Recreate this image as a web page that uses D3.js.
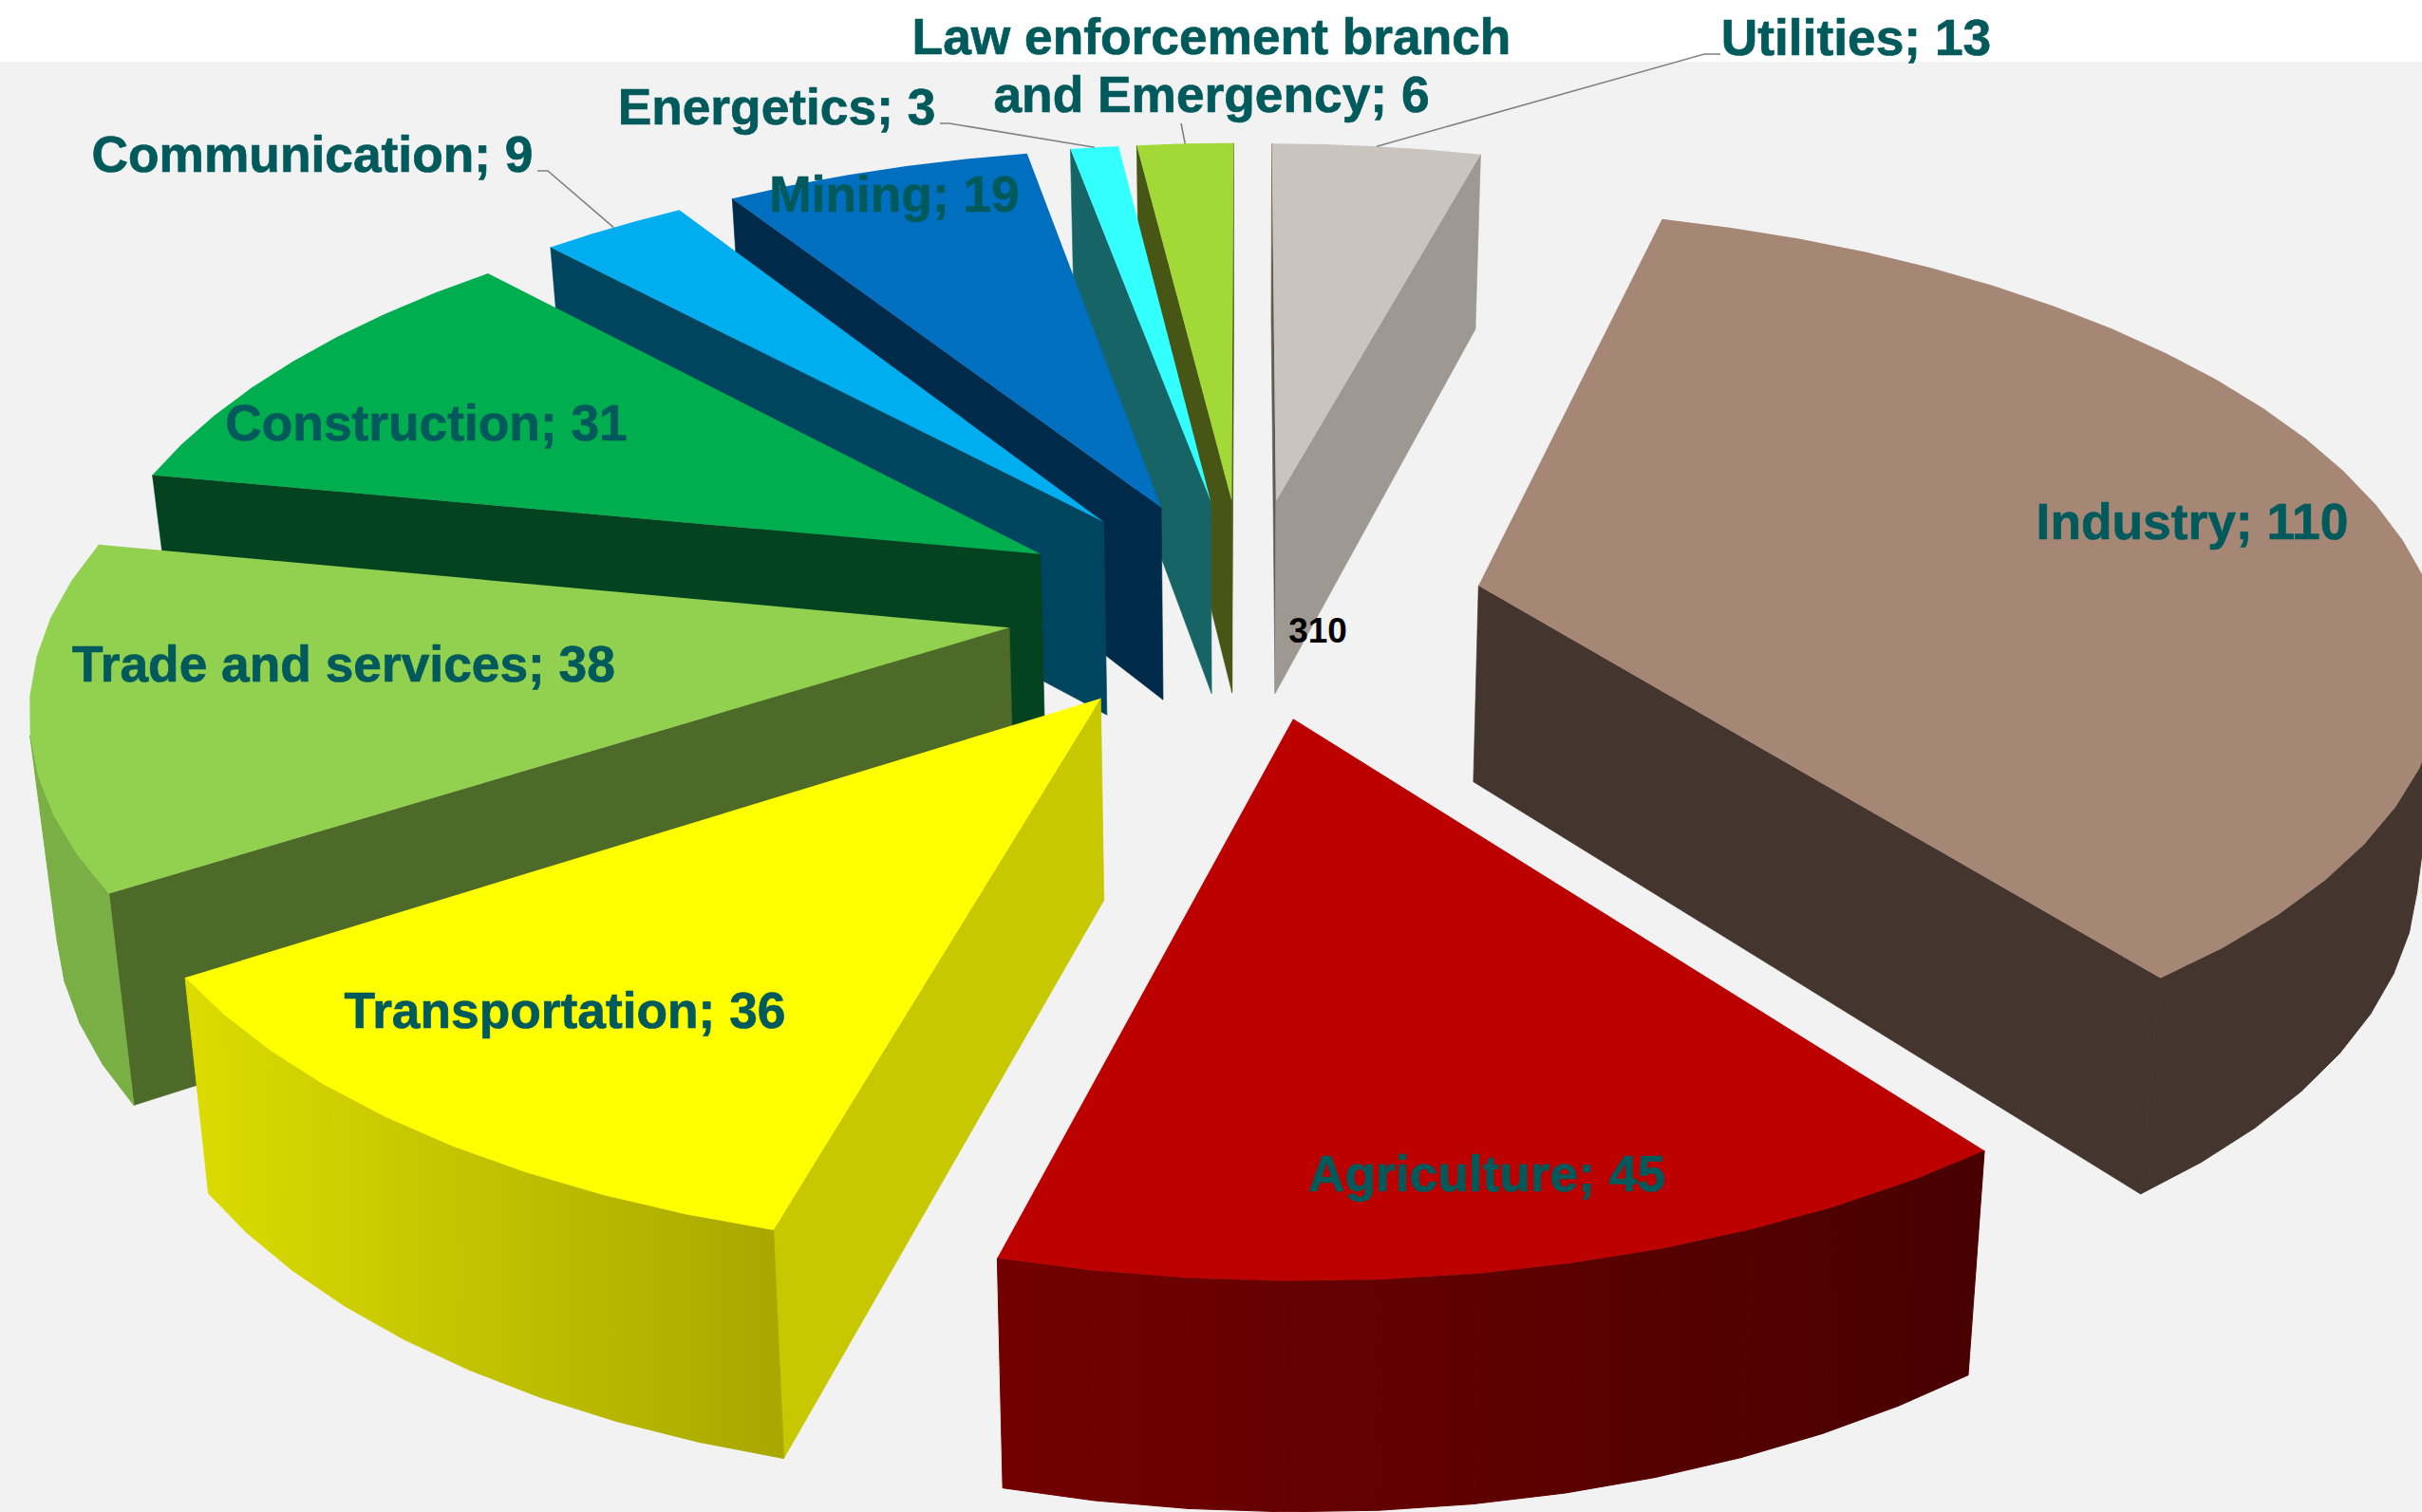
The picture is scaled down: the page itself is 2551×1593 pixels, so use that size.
<!DOCTYPE html>
<html>
<head>
<meta charset="utf-8">
<script src="https://cdn.jsdelivr.net/npm/d3@7/dist/d3.min.js"></script>
<style>
html,body{margin:0;padding:0;background:#fff;overflow:hidden}
svg{display:block}
text{font-family:"Liberation Sans",Arial,sans-serif;font-weight:700}
</style>
</head>
<body>
<svg id="chart" width="2551" height="1593"></svg>
<script>
// ---- data ----
const categories = ["Utilities","Industry","Agriculture","Transportation","Trade and services","Construction","Communication","Mining","Energetics","Law enforcement branch and Emergency"];
const values = [13,110,45,36,38,31,9,19,3,6];
const totalLabel = "310";
const topColors = ["#c9c4bd","#a68776","#bc0000","#ffff00","#92d050","#00ae4f","#00aeef","#006fc0","#33ffff","#a3d936"];
const startWallColors = ["#5f5b56","#44352f","#4a0000","#c8c800","#4d6a28","#03431f","#00455f","#002a4a","#176467","#475615"];
const endWallColors = ["#9e9892","#44352f","#4a0000","#c8c800","#4d6a28","#03431f","#00455f","#002a4a","#176467","#475615"];
const outerWallStart = ["#9e9892","#44352f","#730000","#dcdc00","#7aaf45","#03431f","#00455f","#002a4a","#176467","#475615"];
const outerWallEnd = ["#9e9892","#44352f","#480000","#a8a800","#7aaf45","#03431f","#00455f","#002a4a","#176467","#475615"];
// ---- layout ----
const W = 2551, H = 1593;
const cx = 1312, cy = 639, A = 1007, B = 464, persp = 0.15;
const explode = 0.25;
const project = (u,v,z) => {
  const w = 1 - persp*v;
  const x = A*u/w*(1+0.008*Math.min(v,0)), y0 = cy + B*v/w;
  return [cx + x*(1-0.022*z), y0 + z*(184 + 0.05*(y0-163))];
};
const svg = d3.select("#chart");
svg.append("rect").attr("width",W).attr("height",H).attr("fill","#fff");
svg.append("rect").attr("y",65).attr("width",W).attr("height",H-65).attr("fill","#f2f2f2");
const defs = svg.append("defs");
const line = d3.line();
const closed = pts => line(pts)+"Z";
const arcs = d3.pie().sort(null).startAngle(0).endAngle(2*Math.PI)(values);
const radial = (a,r) => [Math.sin(a)*r, -Math.cos(a)*r];
const slices = arcs.map((d,i)=>{
  const mid = (d.startAngle+d.endAngle)/2;
  const [ox,oy] = radial(mid,explode);
  const steps = Math.max(2,Math.ceil((d.endAngle-d.startAngle)/(5*Math.PI/180)));
  const rim = d3.range(steps+1).map(k=>{
    const a = d.startAngle + (d.endAngle-d.startAngle)*k/steps;
    const [x,y] = radial(a,1);
    return [ox+x,oy+y];
  });
  return {i,mid,ox,oy,rim};
}).sort((a,b)=>Math.cos(b.mid)-Math.cos(a.mid));
const facing = (a,b,c,e) => {
  const p=[a,b,c,e]; let s=0;
  p.forEach((q,k)=>{const n=p[(k+1)%4]; s+=q[0]*n[1]-n[0]*q[1];});
  return s<0;
};
const g = svg.append("g");
slices.forEach(s=>{
  const apex=[s.ox,s.oy];
  const P=(q,z)=>project(q[0],q[1],z);
  const sg=g.append("g").attr("data-name",categories[s.i]);
  // radial walls
  [[apex,s.rim[0],startWallColors],[s.rim[s.rim.length-1],apex,endWallColors]].forEach(([a,b,cols])=>{
    const q=[P(a,0),P(b,0),P(b,1),P(a,1)];
    if(facing(...q)) sg.append("path").attr("d",closed(q)).attr("fill",cols[s.i]).attr("stroke",cols[s.i]).attr("stroke-width",0.6);
  });
  // outer wall
  const xs=s.rim.map(q=>P(q,0)[0]);
  const gid="wall"+s.i;
  const gr=defs.append("linearGradient").attr("id",gid).attr("gradientUnits","userSpaceOnUse")
    .attr("x1",d3.min(xs)).attr("x2",d3.max(xs)).attr("y1",0).attr("y2",0);
  gr.append("stop").attr("offset",0).attr("stop-color",outerWallStart[s.i]);
  gr.append("stop").attr("offset",1).attr("stop-color",outerWallEnd[s.i]);
  d3.pairs(s.rim).forEach(([a,b])=>{
    const q=[P(a,0),P(b,0),P(b,1),P(a,1)];
    if(facing(...q)) sg.append("path").attr("d",closed(q)).attr("fill",`url(#${gid})`).attr("stroke",`url(#${gid})`).attr("stroke-width",1);
  });
  // top
  sg.append("path").attr("d",closed([P(apex,0),...s.rim.map(q=>P(q,0))])).attr("fill",topColors[s.i]);
});
// ---- leader lines ----
const rimPoint = name => { const s=slices.find(k=>categories[k.i]===name);
  const [x,y]=radial(s.mid,1); return project(s.ox+x,s.oy+y,0); };
const leaders = [
  ["Communication",[[566,180],[577,180]]],
  ["Energetics",[[990,130],[1000,130]]],
  ["Law enforcement branch and Emergency",[[1244,130]]],
  ["Utilities",[[1812,57],[1795,57]]]
];
leaders.forEach(([n,pts])=>{
  g.append("path").attr("d",line([...pts,rimPoint(n)])).attr("fill","none").attr("stroke","#808080").attr("stroke-width",1.6);
});
// ---- labels ----
const labelSize = 53.3, labelColor = "#005a5c";
const labels = [
  ["Law enforcement branch",1276,57],
  ["and Emergency; 6",1276,118],
  ["Utilities; 13",1955,58],
  ["Energetics; 3",818,131],
  ["Communication; 9",329,181],
  ["Mining; 19",942,223],
  ["Industry; 110",2309,568],
  ["Construction; 31",449,464],
  ["Trade and services; 38",362,718],
  ["Transportation; 36",595,1083],
  ["Agriculture; 45",1566,1255]
];
svg.selectAll("text.lab").data(labels).join("text").attr("class","lab")
  .attr("x",d=>d[1]).attr("y",d=>d[2]).attr("text-anchor","middle")
  .attr("font-size",labelSize).attr("fill",labelColor)
  .attr("stroke",labelColor).attr("stroke-width",0.7).text(d=>d[0]);
svg.append("text").attr("x",1388).attr("y",677).attr("text-anchor","middle").attr("font-size",37).attr("fill","#000").text(totalLabel);
</script>
</body>
</html>
